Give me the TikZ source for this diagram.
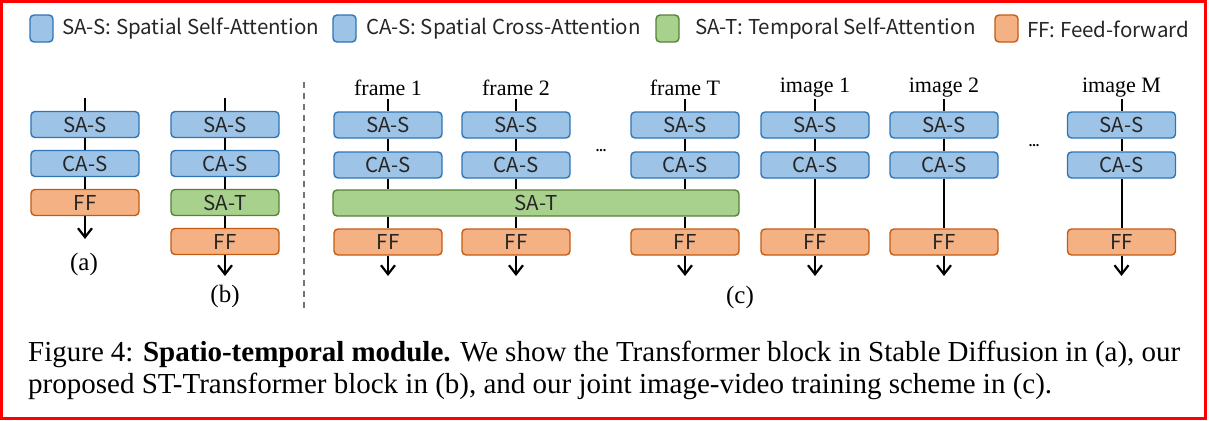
\documentclass[tikz,border=0pt]{standalone}
\usepackage{fontspec}
\setmainfont{Liberation Serif}
\newfontfamily\sansf{Noto Sans CJK SC}
\usetikzlibrary{arrows.meta}
\definecolor{fblue}{HTML}{9DC3E6}
\definecolor{dblue}{HTML}{2E75B6}
\definecolor{fgreen}{HTML}{A9D18E}
\definecolor{dgreen}{HTML}{548235}
\definecolor{forange}{HTML}{F4B183}
\definecolor{dorange}{HTML}{C55A11}
\tikzset{
  blk/.style={draw, rounded corners=4bp, line width=1.4bp, minimum width=108bp, minimum height=26bp, inner sep=0pt,
    font=\sansf\fontsize{20.5bp}{24bp}\selectfont, text=black!85},
  sasbox/.style={blk, draw=dblue, fill=fblue},
  satbox/.style={blk, draw=dgreen, fill=fgreen},
  ffbox/.style={blk, draw=dorange, fill=forange},
  legbox/.style={draw, rounded corners=4bp, line width=1.4bp, minimum width=23bp, minimum height=27bp, inner sep=0pt},
  legtext/.style={anchor=west, inner sep=0pt, font=\sansf\fontsize{20.5bp}{24bp}\selectfont, text=black!85},
  flowline/.style={line width=2bp, black},
  outarrow/.style={flowline, -{Straight Barb[length=9bp,width=14bp,line width=2.2bp]}},
  toplbl/.style={font=\fontsize{22bp}{24bp}\selectfont, inner sep=0pt},
  sublbl/.style={font=\fontsize{25bp}{28bp}\selectfont, inner sep=0pt},
  dotslbl/.style={font=\fontsize{14bp}{16bp}\selectfont\bfseries, inner sep=0pt},
  captext/.style={anchor=base west, inner sep=0pt, font=\fontsize{29bp}{32bp}\selectfont},
}
\begin{document}
\begin{tikzpicture}[x=1bp,y=-1bp]
\useasboundingbox (0,0) rectangle (1209,420);
\draw[red, line width=3bp] (1.5,1.5) rectangle (1205,418.5);

% legend
\node[legbox, draw=dblue, fill=fblue] (l1) at (41.5,28.5) {};
\node[legtext] (t1) at (62,29) {SA-S: Spatial Self-Attention};
\node[legbox, draw=dblue, fill=fblue] (l2) at (344.5,28.5) {};
\node[legtext] (t2) at (366,29) {CA-S: Spatial Cross-Attention};
\node[legbox, draw=dgreen, fill=fgreen] (l3) at (667.5,28.5) {};
\node[legtext] (t3) at (695,29) {SA-T: Temporal Self-Attention};
\node[legbox, draw=dorange, fill=forange] (l4) at (1006.5,28.5) {};
\node[legtext] (t4) at (1027,29) {FF: Feed-forward};

% dashed separator
\coordinate (d1) at (304,82);
\coordinate (d2) at (304,309);
\draw[line width=1.3bp, black!55, dash pattern=on 6bp off 5bp] (d1) -- (d2);

% (a)
\coordinate (atop) at (85,98);
\node[sasbox] (asas) at (85,124.5) {SA-S};
\node[sasbox] (acas) at (85,163.5) {CA-S};
\node[ffbox] (aff) at (85,202.5) {FF};
\coordinate (aend) at (85,239);
\node[sublbl] (alab) at (84,264) {(a)};
\draw[flowline] (atop) -- (asas);
\draw[flowline] (asas) -- (acas);
\draw[flowline] (acas) -- (aff);
\draw[outarrow] (aff) -- (aend);

% (b)
\coordinate (btop) at (225,98);
\node[sasbox] (bsas) at (225,124.5) {SA-S};
\node[sasbox] (bcas) at (225,163.5) {CA-S};
\node[satbox] (bsat) at (225,202.5) {SA-T};
\node[ffbox] (bff) at (225,241.5) {FF};
\coordinate (bend) at (225,276);
\node[sublbl] (blab) at (225,296) {(b)};
\draw[flowline] (btop) -- (bsas);
\draw[flowline] (bsas) -- (bcas);
\draw[flowline] (bcas) -- (bsat);
\draw[flowline] (bsat) -- (bff);
\draw[outarrow] (bff) -- (bend);

% (c) video frames
\node[satbox, minimum width=406bp] (csat) at (536,203) {SA-T};
\foreach \n/\x/\t in {f1/388/frame 1, f2/516/frame 2, fT/685/frame T}{
  \node[toplbl] (\n lab) at (\x,88) {\t};
  \coordinate (\n top) at (\x,99);
  \node[sasbox] (\n sas) at (\x,125) {SA-S};
  \node[sasbox] (\n cas) at (\x,165) {CA-S};
  \node[ffbox] (\n ff) at (\x,242) {FF};
  \coordinate (\n end) at (\x,276);
  \draw[flowline] (\n top) -- (\n sas);
  \draw[flowline] (\n sas) -- (\n cas);
  \draw[flowline] (\n cas) -- (\n cas |- csat.north);
  \draw[flowline] (\n cas |- csat.south) -- (\n ff);
  \draw[outarrow] (\n ff) -- (\n end);
}
% (c) images
\foreach \n/\x/\t in {i1/815/image 1, i2/944/image 2, iM/1121.5/image M}{
  \node[toplbl] (\n lab) at (\x,88) {\t};
  \coordinate (\n top) at (\x,99);
  \node[sasbox] (\n sas) at (\x,125) {SA-S};
  \node[sasbox] (\n cas) at (\x,165) {CA-S};
  \node[ffbox] (\n ff) at (\x,242) {FF};
  \coordinate (\n end) at (\x,276);
  \draw[flowline] (\n top) -- (\n sas);
  \draw[flowline] (\n sas) -- (\n cas);
  \draw[flowline] (\n cas) -- (\n ff);
  \draw[outarrow] (\n ff) -- (\n end);
}
\node[dotslbl] (dv) at (601,151) {...};
\node[dotslbl] (di) at (1034,146) {...};
\node[sublbl] (clab) at (740,297) {(c)};

% caption
\node[captext] (cap1) at (28,361.5) {\hbox to 1152bp{Figure 4: \textbf{Spatio-temporal module.} We show the Transformer block in Stable Diffusion in (a), our}};
\node[captext] (cap2) at (28,393.5) {proposed ST-Transformer block in (b), and our joint image-video training scheme in (c).};
\end{tikzpicture}
\end{document}
